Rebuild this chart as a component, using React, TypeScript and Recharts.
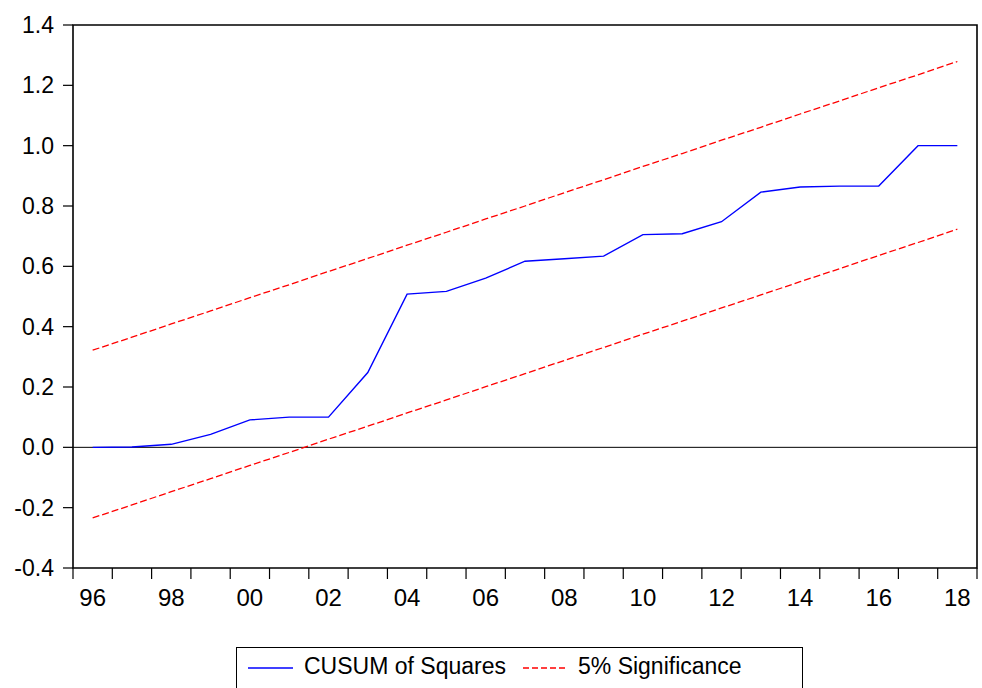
import { LineChart, Line, XAxis, YAxis, ReferenceLine, ReferenceArea, Legend } from 'recharts';

const years = [
  1996, 1997, 1998, 1999, 2000, 2001, 2002, 2003, 2004, 2005, 2006, 2007,
  2008, 2009, 2010, 2011, 2012, 2013, 2014, 2015, 2016, 2017, 2018,
];
const cusumSq = [
  0.0, 0.001, 0.01, 0.043, 0.091, 0.1, 0.1, 0.248, 0.508, 0.517, 0.561, 0.617,
  0.625, 0.634, 0.705, 0.708, 0.748, 0.846, 0.863, 0.866, 0.866, 1.0, 1.0,
];
const upper5 = [
  0.322, 0.365, 0.409, 0.452, 0.496, 0.539, 0.583, 0.626, 0.67, 0.713, 0.757, 0.8,
  0.844, 0.887, 0.931, 0.974, 1.018, 1.061, 1.105, 1.148, 1.192, 1.235, 1.279,
];
const lower5 = [
  -0.234, -0.191, -0.147, -0.104, -0.06, -0.017, 0.027, 0.07, 0.114, 0.157, 0.201, 0.244,
  0.288, 0.331, 0.375, 0.418, 0.462, 0.505, 0.549, 0.592, 0.636, 0.679, 0.723,
];
const yTicks = [-0.4, -0.2, 0.0, 0.2, 0.4, 0.6, 0.8, 1.0, 1.2, 1.4];
const labelYears = [1996, 1998, 2000, 2002, 2004, 2006, 2008, 2010, 2012, 2014, 2016, 2018];

const data = years.map((year, i) => ({
  year,
  cusum: cusumSq[i],
  upper: upper5[i],
  lower: lower5[i],
}));

const W = 982;
const H = 688;
const MARGIN = { top: 25, right: 5, left: 0, bottom: 0 };
const Y_AXIS_W = 73;
const X_AXIS_H = 120;
const BAND = (W - Y_AXIS_W - MARGIN.right) / years.length;
const FONT = '"Liberation Sans", Arial, sans-serif';

// tick marks sit between the years, labels in the middle of each year
const xTicks = [...years.map((y) => y - 0.5), years[years.length - 1] + 0.5];

function YearTick(props: any) {
  const { x, y, payload } = props;
  const year = payload.value + 0.5;
  const showLabel = labelYears.includes(year);
  return (
    <g>
      <line x1={x} y1={y} x2={x} y2={y + 11} stroke="#000" strokeWidth={1.2} />
      {showLabel && (
        <text
          x={x + BAND / 2}
          y={y + 38}
          textAnchor="middle"
          fontSize={24}
          fontFamily={FONT}
          fill="#000"
        >
          {String(year % 100).padStart(2, '0')}
        </text>
      )}
    </g>
  );
}

function LegendBox() {
  return (
    <div style={{ width: 567, height: 46, border: '1px solid #000', boxSizing: 'border-box', background: '#fff' }}>
      <svg width={565} height={44} style={{ display: 'block' }}>
        <line x1={11} y1={20} x2={56} y2={20} stroke="#0000ff" strokeWidth={1.3} />
        <text x={67} y={26} fontSize={23} fontFamily={FONT} fill="#000">
          CUSUM of Squares
        </text>
        <line x1={286} y1={20} x2={331} y2={20} stroke="#ff0000" strokeWidth={1.3} strokeDasharray="6 3" />
        <text x={341} y={26} fontSize={23} fontFamily={FONT} fill="#000">
          5% Significance
        </text>
      </svg>
    </div>
  );
}

export default function App() {
  return (
    <div style={{ position: 'absolute', left: 0, top: 0, width: W, height: H, overflow: 'hidden', background: '#fff' }}>
      <LineChart width={W} height={H} data={data} margin={MARGIN}>
        <XAxis
          dataKey="year"
          type="number"
          domain={[1995.5, 2018.5]}
          ticks={xTicks}
          interval={0}
          height={X_AXIS_H}
          axisLine={false}
          tickLine={false}
          tickSize={0}
          tickMargin={0}
          tick={<YearTick />}
        />
        <YAxis
          type="number"
          domain={[-0.4, 1.4]}
          ticks={yTicks}
          width={Y_AXIS_W}
          axisLine={false}
          tickLine={{ stroke: '#000', strokeWidth: 1.2 }}
          tickSize={10}
          tickMargin={9}
          tickFormatter={(v: number) => v.toFixed(1)}
          tick={{ fontSize: 23, fill: '#000', fontFamily: FONT }}
          interval={0}
        />
        <ReferenceArea
          x1={1995.5}
          x2={2018.5}
          y1={-0.4}
          y2={1.4}
          fill="none"
          stroke="#000"
          strokeWidth={1.6}
        />
        <ReferenceLine y={0} stroke="#000" strokeWidth={1} />
        <Line
          dataKey="upper"
          stroke="#ff0000"
          strokeWidth={1.3}
          strokeDasharray="7 3"
          dot={false}
          isAnimationActive={false}
        />
        <Line
          dataKey="lower"
          stroke="#ff0000"
          strokeWidth={1.3}
          strokeDasharray="7 3"
          dot={false}
          isAnimationActive={false}
        />
        <Line
          dataKey="cusum"
          stroke="#0000ff"
          strokeWidth={1.4}
          dot={false}
          isAnimationActive={false}
        />
        <Legend
          layout="horizontal"
          verticalAlign="middle"
          align="center"
          wrapperStyle={{ left: 236, top: 647, width: 567 }}
          content={<LegendBox />}
        />
      </LineChart>
    </div>
  );
}
